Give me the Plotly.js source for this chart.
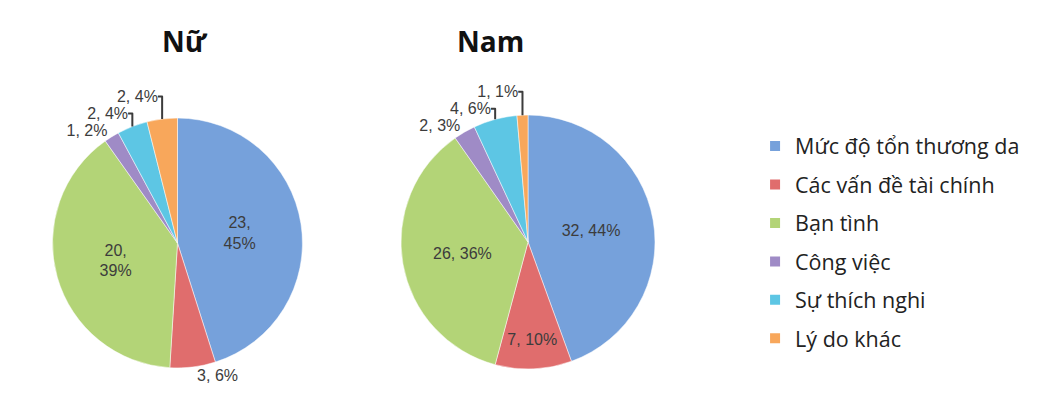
<!DOCTYPE html>
<html>
<head>
<meta charset="utf-8">
<script src="https://cdn.plot.ly/plotly-3.0.1.min.js"></script>
<style>html,body{margin:0;padding:0;background:#fff}#chart{width:1059px;height:405px}</style>
</head>
<body>
<div id="chart"></div>
<script>
const categories = ["Mức độ tổn thương da", "Các vấn đề tài chính", "Bạn tình", "Công việc", "Sự thích nghi", "Lý do khác"];
const femaleValues = [23, 3, 20, 1, 2, 2];
const maleValues = [32, 7, 26, 2, 4, 1];
const colors = ["#76a1db", "#e06d6d", "#b3d477", "#9f8bc6", "#5dc6e4", "#f8a75b"];
const groupTitles = ["Nữ", "Nam"];

const labelFont = {family: "Liberation Sans, Arial, sans-serif", size: 16, color: "#3c3c3c"};

const femalePie = {
  type: "pie", labels: categories, values: femaleValues, sort: false, direction: "clockwise", rotation: 0,
  marker: {colors: colors, line: {color: "#ffffff", width: 0.5}},
  texttemplate: ["%{value},<br>%{percent:.0%}", "%{value}, %{percent:.0%}", "%{value},<br>%{percent:.0%}", "%{value}, %{percent:.0%}", "%{value}, %{percent:.0%}", "%{value}, %{percent:.0%}"],
  textposition: ["inside", "outside", "inside", "outside", "outside", "outside"],
  insidetextorientation: "horizontal",
  textfont: labelFont, outsidetextfont: labelFont, insidetextfont: labelFont,
  showlegend: false, hoverinfo: "label+value+percent",
  domain: {x: [0.0496, 0.2856], y: [0.0914, 0.7086]}
};
const malePie = {
  type: "pie", labels: categories, values: maleValues, sort: false, direction: "clockwise", rotation: 0,
  marker: {colors: colors, line: {color: "#ffffff", width: 0.5}},
  texttemplate: "%{value}, %{percent:.0%}",
  textposition: ["inside", "inside", "inside", "outside", "outside", "outside"],
  insidetextorientation: "horizontal",
  textfont: labelFont, outsidetextfont: labelFont, insidetextfont: labelFont,
  showlegend: false, hoverinfo: "label+value+percent",
  domain: {x: [0.3787, 0.6185], y: [0.0889, 0.716]}
};

const legendTraces = categories.map((c, i) => ({
  type: "scatter", mode: "markers", x: [null], y: [null], name: c,
  legendgroup: "g" + i, showlegend: true, hoverinfo: "skip",
  marker: {symbol: "square", size: 10, color: colors[i]}
}));

const layout = {
  width: 1059, height: 405,
  margin: {l: 0, r: 0, t: 0, b: 0},
  paper_bgcolor: "#ffffff", plot_bgcolor: "rgba(0,0,0,0)",
  xaxis: {visible: false, domain: [0.99, 1]}, yaxis: {visible: false},
  showlegend: true,
  legend: {
    x: 0.713, y: 0.69, xanchor: "left", yanchor: "top",
    font: {family: "Open Sans, Noto Sans, sans-serif", size: 21.5, color: "#222222"},
    tracegroupgap: 7.5, bgcolor: "rgba(0,0,0,0)"
  },
  annotations: [
    {text: "<b>" + groupTitles[0] + "</b>", x: 160 / 1059, y: 0.95, xref: "paper", yref: "paper", showarrow: false,
     font: {family: "Open Sans, Liberation Sans, sans-serif", size: 28, color: "#111111"}},
    {text: "<b>" + groupTitles[1] + "</b>", x: 490 / 1059, y: 0.95, xref: "paper", yref: "paper", showarrow: false,
     font: {family: "Open Sans, Liberation Sans, sans-serif", size: 28, color: "#111111"}}
  ]
};

Plotly.newPlot("chart", [femalePie, malePie].concat(legendTraces), layout, {displayModeBar: false, staticPlot: true});
</script>
</body>
</html>
